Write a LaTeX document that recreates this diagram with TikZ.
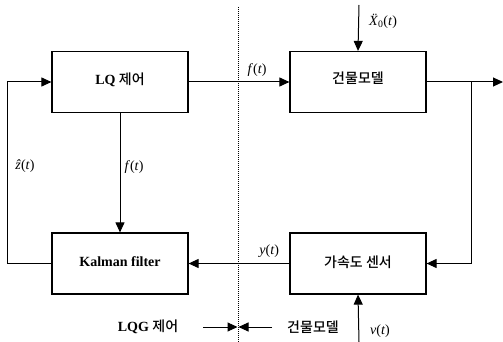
\documentclass[tikz,border=0pt]{standalone}
\usepackage{fontspec}
\setmainfont{Liberation Serif}
\newfontfamily\kr{Noto Sans CJK KR Medium}
\usetikzlibrary{arrows.meta}
\begin{document}
\begin{tikzpicture}[x=1pt,y=-1pt,
  blockbox/.style={draw,line width=1.2pt,minimum width=136pt,minimum height=61pt,inner sep=0pt},
  conn/.style={line width=1pt},
  arr/.style={conn,-{Triangle[length=10pt,width=9pt]}},
  lbl/.style={font=\fontsize{14}{16}\selectfont,inner sep=0pt}]
\useasboundingbox (0,0) rectangle (503,342);
\node[blockbox] (lq) at (120,82) {};
\node[lbl] at (120,80) {\textbf{LQ} {\kr 제어}};
\node[blockbox] (bm) at (358,82) {};
\node[lbl] at (358,78) {\kr 건물모델};
\node[blockbox] (kf) at (120,263.5) {};
\node[lbl] at (120,262) {\textbf{Kalman filter}};
\node[blockbox] (se) at (358,263.5) {};
\node[lbl] at (358,262) {\kr 가속도 센서};
% dotted divider
\coordinate (dtop) at (238,7);
\coordinate (dbot) at (238,342);
\draw[line width=1pt,densely dotted] (dtop) -- (dbot);
% LQ -> building
\draw[arr] (lq.east) -- (bm.west) node[lbl,pos=0.68,above=5pt] {\textit{f}(\textit{t})};
% building output
\coordinate (outend) at (503,82);
\coordinate (br) at (471,82);
\coordinate (brd) at (471,263.5);
\draw[arr] (bm.east) -- (outend);
\draw[arr] (br) -- (brd) -- (se.east);
% sensor -> kalman
\draw[arr] (se.west) -- (kf.east) node[lbl,pos=0.2,above=5pt] {\textit{y}(\textit{t})};
% LQ -> Kalman
\draw[arr] (lq.south) -- (kf.north) node[lbl,midway,right=4pt,yshift=6pt] {\textit{f}(\textit{t})};
% Kalman -> LQ feedback
\coordinate (lb) at (7,263.5);
\coordinate (lt) at (7,82);
\draw[arr] (kf.west) -- (lb) -- (lt) -- (lq.west);
\node[lbl] at (25,166) {\textit{ẑ}(\textit{t})};
% disturbance
\coordinate (xtop) at (359,5);
\draw[arr] (xtop) -- (bm.north);
\node[lbl] at (383,21) {\textit{Ẍ}\textsubscript{0}(\textit{t})};
% noise
\coordinate (vbot) at (359,342);
\draw[arr] (vbot) -- (se.south);
\node[lbl] at (380,331) {\textit{v}(\textit{t})};
% bottom legend
\node[lbl] (lqg) at (148,327) {\textbf{LQG} {\kr 제어}};
\node[lbl] (bml) at (313,327) {\kr 건물모델};
\coordinate (la) at (203,327);
\coordinate (lae) at (237.5,327);
\coordinate (ra) at (272,327);
\coordinate (rae) at (238.5,327);
\draw[arr] (la) -- (lae);
\draw[arr] (ra) -- (rae);
\end{tikzpicture}
\end{document}
